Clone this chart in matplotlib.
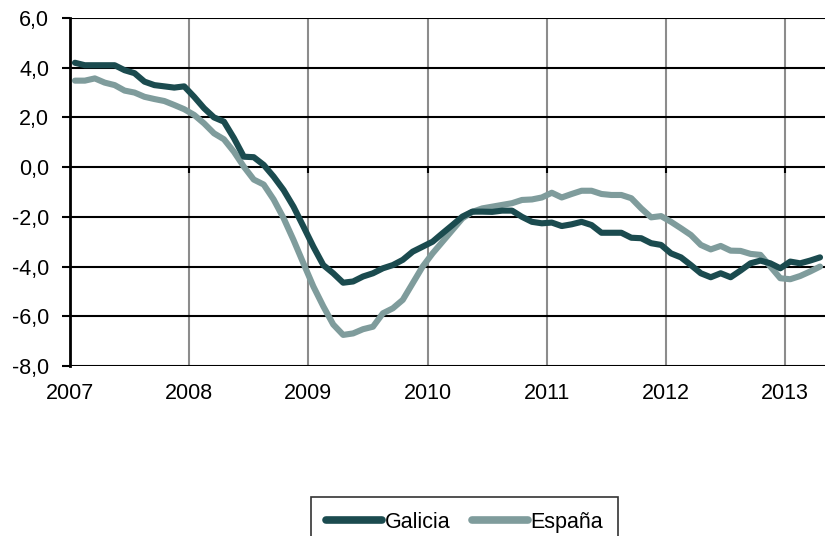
import matplotlib
matplotlib.use("Agg")
import matplotlib.pyplot as plt
import numpy as np

plt.rcParams['font.family'] = ['Liberation Sans', 'DejaVu Sans']

# monthly series, Jan 2007 .. Apr 2013
galicia = [4.2, 4.1, 4.1, 4.1, 4.1, 3.9, 3.78, 3.44, 3.3, 3.25, 3.2, 3.25,
           2.83, 2.37, 2.0, 1.83, 1.17, 0.42, 0.4, 0.09, -0.38, -0.92, -1.59, -2.39,
           -3.2, -3.94, -4.27, -4.65, -4.6, -4.4, -4.27, -4.07, -3.94, -3.73, -3.4, -3.2,
           -3.0, -2.66, -2.33, -1.99, -1.79, -1.79, -1.8, -1.75, -1.75, -2.0, -2.2, -2.26,
           -2.23, -2.37, -2.3, -2.2, -2.33, -2.64, -2.64, -2.64, -2.84, -2.86, -3.06, -3.13,
           -3.47, -3.63, -3.94, -4.27, -4.43, -4.27, -4.43, -4.16, -3.87, -3.76, -3.87, -4.07,
           -3.8, -3.87, -3.76, -3.63]
espana = [3.48, 3.48, 3.57, 3.4, 3.3, 3.08, 3.0, 2.83, 2.74, 2.66, 2.5, 2.33,
          2.1, 1.76, 1.36, 1.12, 0.62, 0.02, -0.5, -0.7, -1.3, -2.05, -2.93, -3.87,
          -4.8, -5.6, -6.33, -6.75, -6.69, -6.52, -6.42, -5.88, -5.68, -5.34, -4.67, -4.0,
          -3.47, -3.0, -2.53, -2.06, -1.8, -1.66, -1.59, -1.52, -1.45, -1.32, -1.3, -1.22,
          -1.03, -1.22, -1.08, -0.95, -0.95, -1.08, -1.12, -1.12, -1.25, -1.66, -2.02, -1.97,
          -2.2, -2.46, -2.73, -3.13, -3.31, -3.17, -3.36, -3.37, -3.49, -3.53, -4.0, -4.47,
          -4.51, -4.38, -4.2, -4.0]
years = [2007, 2008, 2009, 2010, 2011, 2012, 2013]
yticks = [6, 4, 2, 0, -2, -4, -6, -8]

x = 2007 + (np.arange(len(galicia)) + 0.5) / 12

fig = plt.figure(figsize=(8.25, 5.36), dpi=100)
ax = fig.add_axes([0.0848, 0.3172, 0.9152, 0.6492])

for yr in years[1:]:
    ax.axvline(yr, color='#8c8c8c', lw=1.5, zorder=1)
for v in yticks:
    ax.axhline(v, color='black', lw=1.5, zorder=1)
ax.vlines(years[1:], -0.25, 0, color='black', lw=1.5, zorder=1)

ax.plot(x, galicia, color='#1b4b4f', lw=4.4, solid_capstyle='round', label='Galicia', zorder=3)
ax.plot(x, espana, color='#7f9c9c', lw=4.4, solid_capstyle='round', label='España', zorder=2)

ax.set_xlim(2007, 2007 + 76 / 12)
ax.set_ylim(-8, 6)
ax.set_yticks(yticks)
ax.set_yticklabels([f"{v:.1f}".replace('.', ',') for v in yticks])
ax.set_xticks(years)
ax.set_xticklabels([str(y) for y in years])
ax.tick_params(axis='y', length=6, width=1.5, labelsize=15.5, pad=9)
ax.tick_params(axis='x', length=0, labelsize=15.5, pad=12)

for s in ['top', 'right', 'bottom']:
    ax.spines[s].set_visible(False)
ax.spines['left'].set_linewidth(2)
ax.spines['left'].set_zorder(4)

leg = fig.legend(loc='upper center', bbox_to_anchor=(0.563, 0.073), ncol=2,
                 frameon=True, fancybox=False, edgecolor='black', fontsize=15.5,
                 handlelength=2.6, handletextpad=0.1, columnspacing=1.0,
                 borderpad=0.7, borderaxespad=0)
leg.get_frame().set_linewidth(1.2)
for line in leg.get_lines():
    line.set_linewidth(5.5)

fig.savefig('out.png', dpi=100)
